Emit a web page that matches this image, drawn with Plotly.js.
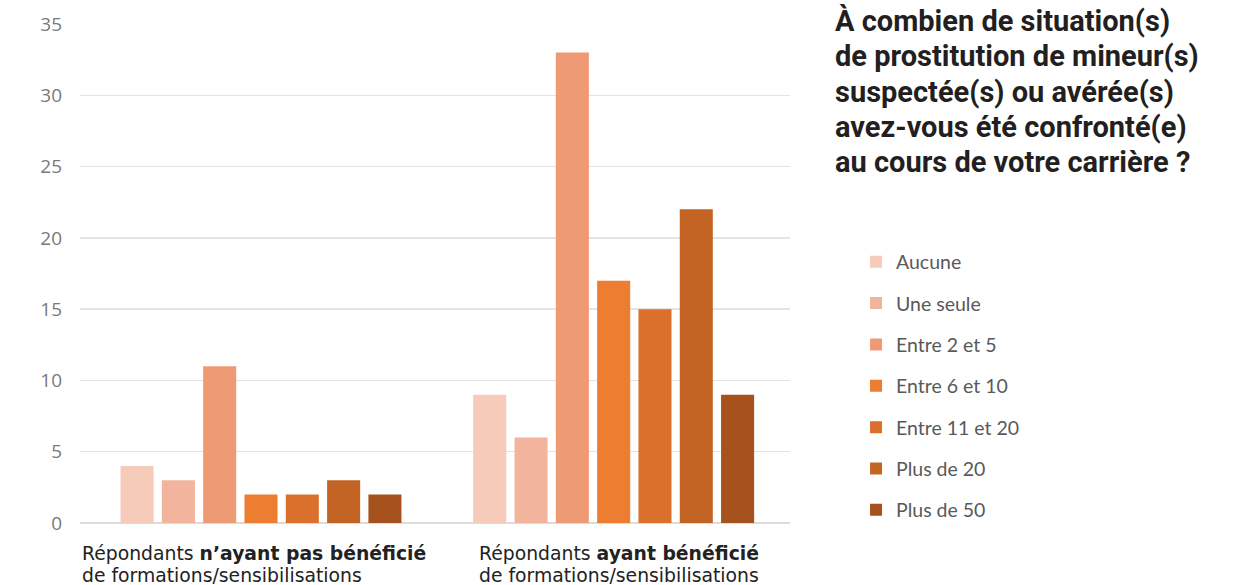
<!DOCTYPE html>
<html>
<head>
<meta charset="utf-8">
<script src="https://cdn.plot.ly/plotly-3.0.1.min.js"></script>
<style>html,body{margin:0;padding:0;background:#fff;}#chart{width:1236px;height:585px;}</style>
</head>
<body>
<div id="chart"></div>
<script>
const categories = ["Sans formation", "Avec formation"];
const categoryLabelLine1 = ["Répondants <b>n’ayant pas bénéficié</b>", "Répondants <b>ayant bénéficié</b>"];
const categoryLabelLine2 = ["de formations/sensibilisations", "de formations/sensibilisations"];
const seriesNames = ["Aucune", "Une seule", "Entre 2 et 5", "Entre 6 et 10", "Entre 11 et 20", "Plus de 20", "Plus de 50"];
const aucune = [4, 9];
const uneSeule = [3, 6];
const entre2et5 = [11, 33];
const entre6et10 = [2, 17];
const entre11et20 = [2, 15];
const plusDe20 = [3, 22];
const plusDe50 = [2, 9];
const seriesValues = [aucune, uneSeule, entre2et5, entre6et10, entre11et20, plusDe20, plusDe50];
const seriesColors = ["#F6CBBA", "#F2B49D", "#EE9B75", "#ED7D31", "#DA702B", "#C46424", "#A5521D"];
const titleLines = [
  "À combien de situation(s)",
  "de prostitution de mineur(s)",
  "suspectée(s) ou avérée(s)",
  "avez-vous été confronté(e)",
  "au cours de votre carrière ?"
];
const yTicks = [0, 5, 10, 15, 20, 25, 30, 35];

const traces = seriesNames.map((name, i) => ({
  type: "bar",
  name: name,
  x: categories,
  y: seriesValues[i],
  marker: {color: seriesColors[i], line: {width: 0}},
  legendgroup: "g" + i,
  hoverinfo: "name+y"
}));

const plotTop = 24, plotH = 499;
const annotations = [];
titleLines.forEach((t, i) => {
  const py = 21 + i * 35.3;
  annotations.push({
    xref: "paper", yref: "paper", x: 1.061, xanchor: "left",
    y: 1 - (py - plotTop) / plotH, yanchor: "middle",
    text: "<b>" + t + "</b>", showarrow: false, align: "left",
    font: {family: "Roboto, 'Noto Sans', sans-serif", size: 29, color: "#231F20"}
  });
});
const labelShift = [-181, -137];
const labelFont = {family: "'DejaVu Sans', sans-serif", size: 18.8, color: "#222222"};
categories.forEach((c, i) => {
  [categoryLabelLine1[i], categoryLabelLine2[i]].forEach((t, j) => {
    annotations.push({
      xref: "x", yref: "paper", x: c, xanchor: "left", xshift: labelShift[i],
      y: -((553 + j * 22) - (plotTop + plotH)) / plotH, yanchor: "middle",
      text: t, showarrow: false, align: "left", font: labelFont
    });
  });
});

const layout = {
  width: 1236, height: 585,
  margin: {l: 80, r: 446, t: 24, b: 62, autoexpand: false},
  paper_bgcolor: "#ffffff", plot_bgcolor: "#ffffff",
  barmode: "group", bargap: 0.18, bargroupgap: 0.2,
  showlegend: true,
  legend: {
    x: 1.093, xanchor: "left", y: 0.562, yanchor: "top",
    orientation: "v", traceorder: "grouped", tracegroupgap: 13, itemwidth: 30,
    font: {family: "Lato, 'Liberation Sans', sans-serif", size: 19.5, color: "#595959"},
    bgcolor: "rgba(0,0,0,0)"
  },
  xaxis: {
    type: "category", showticklabels: false, showgrid: false, zeroline: false,
    showline: false, ticks: "", fixedrange: true
  },
  yaxis: {
    range: [0, 35], tickvals: yTicks, ticktext: yTicks.map(String),
    showgrid: true, gridcolor: "#E4E4E4", gridwidth: 1.5,
    zeroline: true, zerolinecolor: "#DCDCDC", zerolinewidth: 1.5,
    showline: false, ticks: "", ticklabelstandoff: 17,
    tickfont: {family: "'Open Sans', sans-serif", size: 19, color: "#7A7A7A"},
    fixedrange: true
  },
  annotations: annotations
};

Plotly.newPlot("chart", traces, layout, {displayModeBar: false, staticPlot: true});
</script>
</body>
</html>
